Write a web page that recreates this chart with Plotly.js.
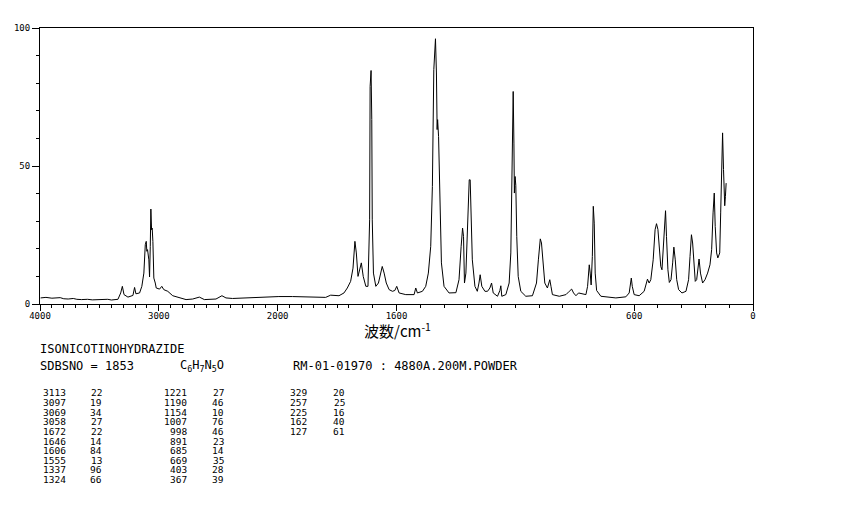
<!DOCTYPE html>
<html><head><meta charset="utf-8">
<script src="https://cdn.plot.ly/plotly-3.0.1.min.js"></script>
<style>html,body{margin:0;padding:0;background:#fff}</style>
</head><body><div id="chart" style="width:850px;height:510px"></div>
<script>
// Raman spectrum (wavenumber cm-1, relative intensity)
const wavenumbers = [3995,3950,3900,3874,3830,3800,3763,3720,3690,3651,3600,3560,3511,3470,3430,3399,3360,3344,3321,3307,3293,3260,3218,3204,3193,3162,3143,3126,3114,3106,3101,3095,3084,3078,3072,3067,3061,3056,3050,3042,3030,3022,2994,2975,2958,2925,2883,2841,2813,2771,2715,2659,2617,2519,2469,2435,2380,2324,2250,2184,2120,2073,1995,
1938,1882,1826,1798,1777,1742,1721,1707,1693,1683,1675,1669,1662,1655,1648,1640,1629,1620,1616,1613,1611,1607,1604,1602,1597,1587,1576,1566,1560,1552,1543,1531,1517,1507,1499,1489,1461,1426,1419,1412,1391,1377,1366,1356,1349,1343,1339,1336,1332,1329,1327,1323,1317,1311,1300,1279,1250,1237,1228,1222,1218,1214,1208,1201,1194,1190,1186,1181,1170,1160,1153,1148,1141,1128,1117,1107,1100,1093,1075,1065,1061,1057,1040,1026,1019,1013,1009,1006,1004,1001,998,994,988,977,956,928,911,903,895,890,883,876,865,855,850,844,815,787,773,763,755,745,734,703,696,689,685,681,676,672,668,664,658,640,577,535,521,512,508,500,479,458,444,437,430,420,412,406,400,395,388,383,378,372,368,364,358,352,345,338,333,327,321,313,299,282,271,265,259,254,248,243,237,231,227,221,212,202,191,181,174,168,163,159,153,148,140,136,132,128,124,119,116,113];
const intensities = [2.2,2.4,2.1,2.1,2.3,1.9,1.8,2.0,1.7,1.6,1.7,1.5,1.6,1.5,1.7,1.45,1.6,1.7,4.0,6.4,3.4,2.5,3.1,6.0,3.7,4.0,6.4,11.2,21.5,22.7,19.1,19.7,16,9.8,20.9,34.4,26.9,27.5,22.7,9.4,7.6,5.8,5.4,6.4,5.2,4.6,3.0,2.5,2.0,1.6,1.8,2.5,1.6,1.8,3.0,2.2,2.0,2.1,2.3,2.2,2.5,2.4,2.7,
2.7,2.5,2.4,2.4,3.2,3.0,4.0,5.8,8.2,13.0,22.7,18.5,10,13,14.9,10,6.4,6.4,18.5,30.5,78.8,84.6,66.8,30.5,11.2,6.4,7.6,11.2,13.6,11.2,7.6,5.2,4.6,4.9,6.4,4.0,3.4,3.4,5.8,4.0,4.6,6.4,11.2,20.9,42.6,84.9,94,96.1,83.7,63.2,66.8,60.7,30.5,14.9,6.4,4.0,4.1,8.8,20.9,27.5,24.5,7.6,11.2,28.1,45,45,35.4,16,6.4,4.6,7.6,10.6,6.4,4.6,4.6,5.8,7.6,4.0,2.8,4.9,6.6,2.8,3.4,7.6,18.5,57.1,77,58.3,40.2,46.2,43,24.5,10,4.6,2.8,3.0,7.6,16,23.6,22.1,13.6,7.6,5.8,8.8,6.4,3.4,2.8,3.4,4.6,5.4,4.0,3.0,4.0,3.4,6.4,14.2,11.2,6.9,17.2,35.4,29.3,11.2,4.9,2.8,2.2,2.6,4.0,9.4,6.4,3.4,3.0,4.6,9.0,7.6,8.8,16,26.9,29.1,27,20.9,13.6,12.4,19.7,29.3,33.8,24.5,12.4,7.8,8.8,14.9,20.6,16,8.8,5.2,4.0,4.6,8.8,17.2,25.1,22.1,13.6,8.2,8.8,13.6,16.3,11.2,7.6,8.8,11.2,14.2,19.7,33,40.2,28.1,18.5,16.7,18.5,33,48.7,62,48.7,35.6,39,43.8];

const xTickValues = [4000,3000,2000,1500,500,0];
const xTickLabels = ["4000","3000","2000","1600","600","0"];
const yTickValues = [0,50,100];
const yTickLabels = ["0","50","100"];
const xAxisTitle = "波数/cm<sup>-1</sup>";

const compoundName = "ISONICOTINOHYDRAZIDE";
const sdbsLine = "SDBSNO = 1853";
const formulaText = "C<sub>6</sub>H<sub>7</sub>N<sub>5</sub>O";
const measurementText = "RM-01-01970 : 4880A.200M.POWDER";

const peakWavenumbers = [3113,3097,3069,3058,1672,1646,1606,1555,1337,1324,1221,1190,1154,1007,998,891,685,669,403,367,329,257,225,162,127];
const peakIntensities = [22,19,34,27,22,14,84,13,96,66,27,46,10,76,46,23,14,35,28,39,20,25,16,40,61];

// axis: 4000-2000 region drawn at half scale
function axisPos(nu){ return nu > 2000 ? 2000 + (nu - 2000) / 2 : nu; }

const minorX = [];
for (let v = 3900; v > 2000; v -= 100) if (v !== 3000) minorX.push(axisPos(v));
for (let v = 1950; v >= 1700; v -= 50) minorX.push(axisPos(v));
for (let v = 1600; v > 0; v -= 100) if (v !== 1500 && v !== 500) minorX.push(axisPos(v));
const minorY = [];
for (let v = 10; v < 100; v += 10) if (v !== 50) minorY.push(v);

const L = 40, R = 753, T = 28, B = 304;
const W = 850, H = 510;
function pxX(p){ return (p - L) / (R - L); }
function pxY(p){ return (B - p) / (B - T); }

const mono = "DejaVu Sans Mono";
const annotations = [];
function addText(text, x, y, anchor, size, family){
  annotations.push({text: text, xref: 'paper', yref: 'paper', x: pxX(x), y: pxY(y),
    xanchor: anchor, yanchor: 'middle', showarrow: false, borderpad: 0, borderwidth: 0,
    font: {family: family || mono, size: size, color: '#000'}});
}
addText(xAxisTitle, 397, 330, 'center', 15, "Noto Sans CJK JP, DejaVu Sans Mono");
addText(compoundName, 40, 349, 'left', 12);
addText(sdbsLine, 40, 366, 'left', 12);
addText(formulaText, 180, 366, 'left', 12);
addText(measurementText, 293, 366, 'left', 12);

// peak table: three column pairs
const colRights = [[66, 102], [187, 224], [307, 345]];
const rowTop = 393, rowStep = 9.6;
peakWavenumbers.forEach((wn, i) => {
  const col = i < 10 ? 0 : (i < 20 ? 1 : 2);
  const row = i % 10;
  const y = rowTop + row * rowStep;
  addText(String(wn), colRights[col][0], y, 'right', 9.5);
  addText(String(peakIntensities[i]), colRights[col][1], y, 'right', 9.5);
});

const trace = {
  x: wavenumbers.map(axisPos), y: intensities, type: 'scatter', mode: 'lines',
  line: {color: '#000', width: 1}, hoverinfo: 'skip'
};

const layout = {
  width: W, height: H, paper_bgcolor: '#fff', plot_bgcolor: '#fff',
  margin: {l: L, r: W - R, t: T, b: H - B},
  showlegend: false,
  xaxis: {
    range: [axisPos(4000), 0], showgrid: false, zeroline: false,
    showline: true, mirror: true, linecolor: '#000', linewidth: 1,
    tickmode: 'array', tickvals: xTickValues.map(axisPos), ticktext: xTickLabels,
    ticks: 'outside', ticklen: 6, tickwidth: 1, tickcolor: '#000', ticklabelstandoff: -3,
    tickfont: {family: mono, size: 9, color: '#000'},
    minor: {tickmode: 'array', tickvals: minorX, ticks: 'outside', ticklen: 3, tickwidth: 1, tickcolor: '#000', showgrid: false}
  },
  yaxis: {
    range: [0, 100], showgrid: false, zeroline: false,
    showline: true, mirror: true, linecolor: '#000', linewidth: 1,
    tickmode: 'array', tickvals: yTickValues, ticktext: yTickLabels,
    ticks: 'outside', ticklen: 7, tickwidth: 1, tickcolor: '#000',
    tickfont: {family: mono, size: 9, color: '#000'},
    minor: {tickmode: 'array', tickvals: minorY, ticks: 'outside', ticklen: 3, tickwidth: 1, tickcolor: '#000', showgrid: false}
  },
  annotations: annotations
};

Plotly.newPlot('chart', [trace], layout, {staticPlot: true, displayModeBar: false});
</script>
</body></html>
